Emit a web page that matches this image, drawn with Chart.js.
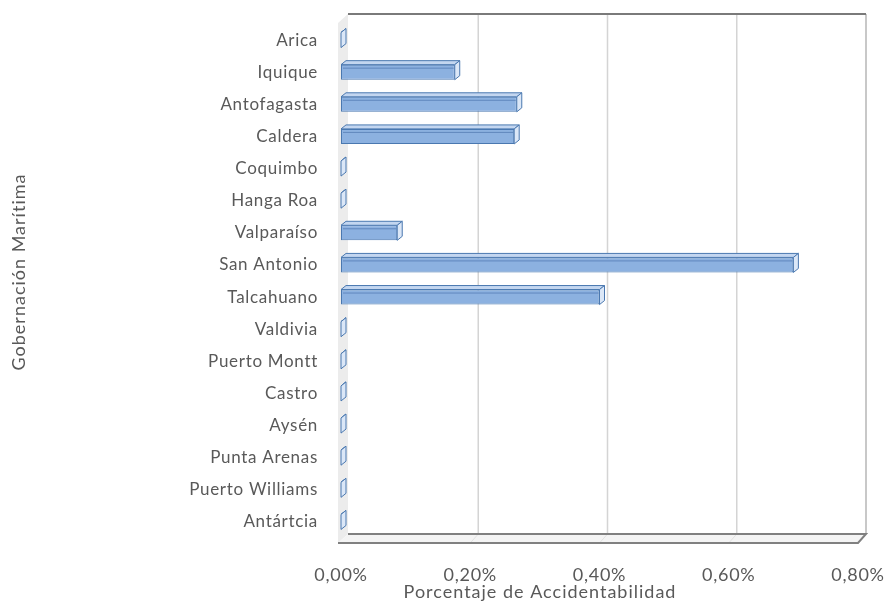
<!DOCTYPE html>
<html>
<head>
<meta charset="utf-8">
<script src="https://cdn.jsdelivr.net/npm/chart.js@4"></script>
<style>
  html, body { margin: 0; padding: 0; background: #fff; }
  #wrap { position: relative; width: 885px; height: 601px; }
</style>
</head>
<body>
<div id="wrap"><canvas id="chart" width="885" height="601"></canvas></div>
<script>
// Data (percent units)
const categories = ['Arica', 'Iquique', 'Antofagasta', 'Caldera', 'Coquimbo', 'Hanga Roa',
  'Valparaíso', 'San Antonio', 'Talcahuano', 'Valdivia', 'Puerto Montt', 'Castro',
  'Aysén', 'Punta Arenas', 'Puerto Williams', 'Antártcia'];
const accidentRate = [0, 0.176, 0.272, 0.268, 0, 0, 0.087, 0.70, 0.40, 0, 0, 0, 0, 0, 0, 0];
const xTicks = [0, 0.2, 0.4, 0.6, 0.8];

const xTitle = 'Porcentaje de Accidentabilidad';
const yTitle = 'Gobernación Marítima';

const FONT = 'Lato, "Open Sans", sans-serif';
const TEXT = '#595959';

// offsets between the front plane and the back wall of the 3D box
const WALL_DX = 8, WALL_DY = 9;
// bar depth
const BAR_DX = 5, BAR_DY = 4;

function fmtPct(v) {
  return v.toFixed(2).replace('.', ',') + '%';
}

// =============================================================================
// 3D FRAME + BAR FACES
// =============================================================================

const frame3d = {
  id: 'frame3d',
  beforeDraw(chart) {
    chart.ctx.letterSpacing = '0.7px';
  },
  beforeDatasetsDraw(chart) {
    const { ctx, chartArea: a, scales: { x } } = chart;
    const fl = a.left - 1, fb = a.bottom + 5;          // front left / bottom
    const fr = x.getPixelForValue(0.8);
    const bl = fl + WALL_DX, bb = fb - WALL_DY, bt = a.top - 10;
    const br = fr + WALL_DX;
    ctx.save();

    // left side wall
    ctx.fillStyle = '#ececec';
    ctx.beginPath();
    ctx.moveTo(fl - 2, bt + WALL_DY);
    ctx.lineTo(bl, bt);
    ctx.lineTo(bl, bb);
    ctx.lineTo(fl - 2, fb);
    ctx.closePath();
    ctx.fill();

    // floor
    ctx.fillStyle = '#f4f4f4';
    ctx.beginPath();
    ctx.moveTo(bl, bb);
    ctx.lineTo(br, bb);
    ctx.lineTo(fr, fb);
    ctx.lineTo(fl - 2, fb);
    ctx.closePath();
    ctx.fill();

    // gridlines on the back wall (and their trace on the floor)
    xTicks.slice(1, -1).forEach(v => {
      const px = x.getPixelForValue(v);
      ctx.strokeStyle = '#d4d4d4';
      ctx.lineWidth = 1.5;
      ctx.beginPath();
      ctx.moveTo(px + WALL_DX, bt);
      ctx.lineTo(px + WALL_DX, bb);
      ctx.stroke();
      ctx.strokeStyle = '#e2e2e2';
      ctx.lineWidth = 1;
      ctx.beginPath();
      ctx.moveTo(px + WALL_DX, bb);
      ctx.lineTo(px, fb);
      ctx.stroke();
    });

    // back wall edges
    ctx.strokeStyle = '#c8c8c8';
    ctx.lineWidth = 2;
    ctx.beginPath();
    ctx.moveTo(br, bt);
    ctx.lineTo(br, bb);
    ctx.stroke();
    ctx.strokeStyle = '#fff';
    ctx.lineWidth = 1;
    ctx.beginPath();
    ctx.moveTo(bl + 1, bt);
    ctx.lineTo(bl + 1, bb);
    ctx.stroke();

    ctx.strokeStyle = '#7a7a7a';
    ctx.lineWidth = 2;
    ctx.beginPath();
    ctx.moveTo(bl, bt);
    ctx.lineTo(br, bt);
    ctx.stroke();

    // floor edges
    ctx.strokeStyle = '#808080';
    ctx.lineWidth = 2;
    ctx.beginPath();
    ctx.moveTo(bl, bb);
    ctx.lineTo(br, bb);
    ctx.lineTo(fr, fb);
    ctx.lineTo(fl - 2, fb);
    ctx.stroke();

    ctx.restore();
  },
  afterDatasetsDraw(chart) {
    const { ctx } = chart;
    const meta = chart.getDatasetMeta(0);
    ctx.save();
    ctx.lineWidth = 1;
    ctx.strokeStyle = '#4a78b0';
    meta.data.forEach(bar => {
      const { x, y, base, height } = bar.getProps(['x', 'y', 'base', 'height'], true);
      const top = y - height / 2, bottom = y + height / 2;
      // top face
      ctx.fillStyle = '#c3d6f0';
      ctx.beginPath();
      ctx.moveTo(base, top);
      ctx.lineTo(base + BAR_DX, top - BAR_DY);
      ctx.lineTo(x + BAR_DX, top - BAR_DY);
      ctx.lineTo(x, top);
      ctx.closePath();
      ctx.fill();
      ctx.stroke();
      // end face
      ctx.fillStyle = '#dbe7f7';
      ctx.beginPath();
      ctx.moveTo(x, top);
      ctx.lineTo(x + BAR_DX, top - BAR_DY);
      ctx.lineTo(x + BAR_DX, bottom - BAR_DY);
      ctx.lineTo(x, bottom);
      ctx.closePath();
      ctx.fill();
      ctx.stroke();
      // darker inner stripe along the front face
      if (x - base > 4) {
        ctx.strokeStyle = 'rgba(60,100,160,0.55)';
        ctx.beginPath();
        ctx.moveTo(base + 2, top + 3.5);
        ctx.lineTo(x - 1, top + 3.5);
        ctx.stroke();
        ctx.strokeStyle = '#4a78b0';
      }
    });
    ctx.restore();
  },
  afterDraw(chart) {
    const { ctx } = chart;
    ctx.save();
    ctx.fillStyle = TEXT;
    ctx.font = '18px ' + FONT;
    ctx.letterSpacing = '1px';
    ctx.textAlign = 'center';
    ctx.textBaseline = 'middle';
    ctx.fillText(xTitle, 540, 592);
    ctx.translate(19, 272);
    ctx.rotate(-Math.PI / 2);
    ctx.fillText(yTitle, 0, 0);
    ctx.restore();
  }
};

// =============================================================================
// CHART
// =============================================================================

const ctx = document.getElementById('chart').getContext('2d');

new Chart(ctx, {
  type: 'bar',
  data: {
    labels: categories,
    datasets: [{
      data: accidentRate,
      backgroundColor: '#8cb1e0',
      borderColor: '#4a78b0',
      borderWidth: 1,
      borderSkipped: false,
      barPercentage: 0.78,
      categoryPercentage: 0.6
    }]
  },
  options: {
    indexAxis: 'y',
    responsive: false,
    animation: false,
    devicePixelRatio: 1,
    layout: { padding: { top: 24, right: 27, left: 0, bottom: 0 } },
    plugins: {
      legend: { display: false },
      tooltip: { enabled: false }
    },
    scales: {
      x: {
        min: 0,
        max: 0.8,
        afterFit: s => {
          s.height = 63;
          s.paddingLeft = 0;
          s.paddingRight = 0;
        },
        afterBuildTicks: s => { s.ticks = xTicks.map(v => ({ value: v })); },
        grid: { display: false, drawTicks: false },
        border: { display: false },
        ticks: {
          color: TEXT,
          font: { size: 18, family: FONT },
          padding: 26,
          maxRotation: 0,
          callback: v => fmtPct(v)
        }
      },
      y: {
        afterFit: s => {
          s.width = 341;
          s.paddingTop = 0;
          s.paddingBottom = 0;
        },
        grid: { display: false, drawTicks: false },
        border: { display: false },
        ticks: {
          color: TEXT,
          font: { size: 17, family: FONT },
          padding: 23,
          autoSkip: false
        }
      }
    }
  },
  plugins: [frame3d]
});
</script>
</body>
</html>
